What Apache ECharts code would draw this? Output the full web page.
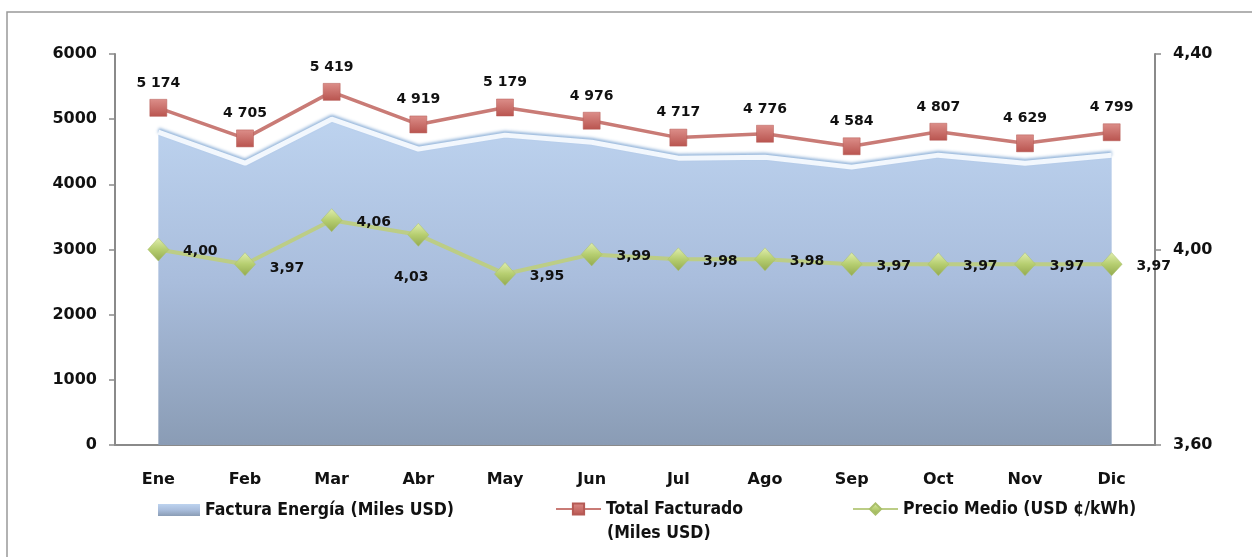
<!DOCTYPE html>
<html>
<head>
<meta charset="utf-8">
<script src="https://cdn.jsdelivr.net/npm/echarts@6/dist/echarts.min.js"></script>
<style>
  html, body { margin: 0; padding: 0; background: #fff; }
  #chart { width: 1252px; height: 557px; }
</style>
</head>
<body>
<div id="chart"></div>
<script>
const months = ['Ene', 'Feb', 'Mar', 'Abr', 'May', 'Jun', 'Jul', 'Ago', 'Sep', 'Oct', 'Nov', 'Dic'];
const facturaEnergia = [4800, 4325, 5000, 4540, 4755, 4647, 4402, 4417, 4264, 4448, 4325, 4448];
const totalFacturado = [5174, 4705, 5419, 4919, 5179, 4976, 4717, 4776, 4584, 4807, 4629, 4799];
const precioMedio = [4.00, 3.97, 4.06, 4.03, 3.95, 3.99, 3.98, 3.98, 3.97, 3.97, 3.97, 3.97];
const leftTicks = [0, 6000, 1000];
const rightTicks = [3.6, 4.4, 0.4];

// where each price label sits around its marker
const priceLabelPos = ['right', 'right', 'right', 'bottom', 'right', 'right', 'right', 'right', 'right', 'right', 'right', 'right'];

const font = 'DejaVu Sans';
const legendFont = 'DejaVu Sans Condensed';
const axisGrey = '#8a8a8a';

function miles(v) {
    return String(v).replace(/\B(?=(\d{3})+(?!\d))/g, ' ');
}
function coma(v) {
    return Number(v).toFixed(2).replace('.', ',');
}

const areaFill = new echarts.graphic.LinearGradient(0, 0, 0, 1, [
    { offset: 0, color: '#bdd3ef' },
    { offset: 0.5, color: '#a9bddc' },
    { offset: 1, color: '#8a9cb5' }
]);
const redMarker = new echarts.graphic.LinearGradient(0, 0, 0, 1, [
    { offset: 0, color: '#dc8e89' },
    { offset: 1, color: '#b9544f' }
]);
const greenMarker = new echarts.graphic.LinearGradient(0, 0, 0, 1, [
    { offset: 0, color: '#e0eeae' },
    { offset: 0.5, color: '#b6ce70' },
    { offset: 1, color: '#93aa50' }
]);

const priceData = precioMedio.map((v, i) => {
    const pos = priceLabelPos[i];
    return {
        value: v,
        label: pos === 'bottom'
            ? { position: 'bottom', distance: 24, offset: [-7, 0] }
            : { position: 'right', distance: 14, offset: [0, i === 1 ? 4 : 2] }
    };
});

const legendText = { fontFamily: legendFont, fontWeight: 'bold', fontSize: 17.5, color: '#111' };

var myChart = echarts.init(document.getElementById('chart'));
var option = {
    animation: false,
    textStyle: { fontFamily: font },
    grid: { left: 115, right: 97, top: 54, bottom: 112 },
    legend: [
        {
            left: 158, top: 501, padding: 0,
            itemWidth: 42, itemHeight: 12, itemGap: 6,
            textStyle: legendText,
            data: [{ name: 'Factura Energía (Miles USD)', icon: 'rect', itemStyle: { color: areaFill } }]
        },
        {
            left: 555, top: 500, padding: 0,
            itemWidth: 45, itemHeight: 14,
            formatter: () => 'Total Facturado',
            textStyle: legendText,
            data: ['Total Facturado (Miles USD)']
        },
        {
            left: 852, top: 500, padding: 0,
            itemWidth: 45, itemHeight: 14,
            textStyle: legendText,
            data: ['Precio Medio (USD ¢/kWh)']
        }
    ],
    graphic: [
        {
            type: 'rect', silent: true,
            shape: { x: 7, y: 12, width: 1300, height: 600 },
            style: { fill: 'none', stroke: '#999', lineWidth: 1.5 }
        },
        {
            type: 'text', left: 607, top: 524,
            style: { text: '(Miles USD)', font: 'bold 17.5px "DejaVu Sans Condensed"', fill: '#111' }
        }
    ],
    xAxis: {
        type: 'category',
        data: months,
        boundaryGap: true,
        axisLine: { lineStyle: { color: axisGrey, width: 2 } },
        axisTick: { show: false },
        axisLabel: { margin: 27, fontWeight: 'bold', fontSize: 16, color: '#111' }
    },
    yAxis: [
        {
            type: 'value',
            min: leftTicks[0], max: leftTicks[1], interval: leftTicks[2],
            splitLine: { show: false },
            axisLine: { show: true, lineStyle: { color: axisGrey, width: 2 } },
            axisTick: { show: true, length: 6, lineStyle: { color: axisGrey, width: 1.5 } },
            axisLabel: { margin: 18, fontWeight: 'bold', fontSize: 16, color: '#111', formatter: v => String(v) }
        },
        {
            type: 'value',
            position: 'right',
            min: rightTicks[0], max: rightTicks[1], interval: rightTicks[2],
            splitLine: { show: false },
            axisLine: { show: true, lineStyle: { color: axisGrey, width: 2 } },
            axisTick: { show: true, length: 6, lineStyle: { color: axisGrey, width: 1.5 } },
            axisLabel: { margin: 18, fontWeight: 'bold', fontSize: 16, color: '#111', formatter: coma }
        }
    ],
    series: [
        {
            name: 'Factura Energía (Miles USD)',
            type: 'line',
            yAxisIndex: 0,
            data: facturaEnergia,
            symbol: 'none',
            z: 1,
            lineStyle: {
                color: '#f2f7fd', width: 5,
                shadowColor: 'rgba(140,175,215,0.9)', shadowBlur: 3, shadowOffsetY: -2
            },
            areaStyle: { color: areaFill, opacity: 1 }
        },
        {
            name: 'Total Facturado (Miles USD)',
            type: 'line',
            yAxisIndex: 0,
            data: totalFacturado,
            symbol: 'rect',
            symbolSize: 17,
            z: 3,
            lineStyle: { color: '#c97b76', width: 3.5 },
            itemStyle: { color: redMarker, borderColor: '#b55a55', borderWidth: 0.5 },
            label: {
                show: true, position: 'top', distance: 9,
                fontWeight: 'bold', fontSize: 14, color: '#111',
                formatter: p => miles(p.value)
            }
        },
        {
            name: 'Precio Medio (USD ¢/kWh)',
            type: 'line',
            yAxisIndex: 1,
            data: priceData,
            symbol: 'diamond',
            symbolSize: [21, 23],
            z: 4,
            lineStyle: { color: '#bccd86', width: 4 },
            itemStyle: { color: greenMarker, borderColor: '#a9bf6a', borderWidth: 0.5 },
            label: {
                show: true,
                fontWeight: 'bold', fontSize: 14, color: '#111',
                formatter: p => coma(p.value)
            }
        }
    ]
};
myChart.setOption(option);
</script>
</body>
</html>
